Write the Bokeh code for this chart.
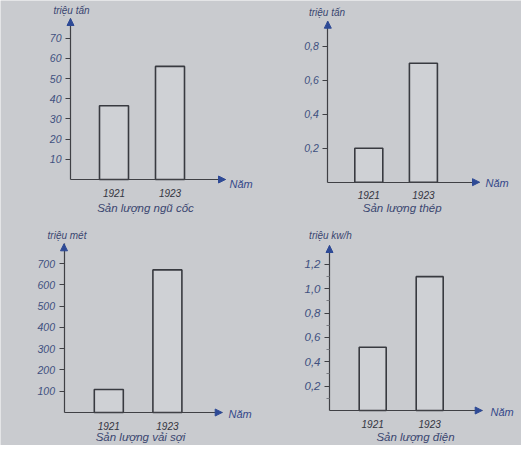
from bokeh.plotting import figure
from bokeh.models import (Range1d, FixedTicker, Arrow, NormalHead, Label, LinearAxis,
                          CustomJSTickFormatter)
from bokeh.embed import file_html
from bokeh.resources import INLINE

# ---- data ----
years = ["1921", "1923"]
grain = [36.5, 56]          # triệu tấn
steel = [0.2, 0.7]          # triệu tấn
textile = [108, 670]        # triệu mét
power = [0.52, 1.1]         # triệu kw/h

titles = ["Sản lượng ngũ cốc", "Sản lượng thép", "Sản lượng vải sợi", "Sản lượng điện"]
units = ["triệu tấn", "triệu tấn", "triệu mét", "triệu kw/h"]
ticks_grain = [10, 20, 30, 40, 50, 60, 70]
ticks_steel = [0.2, 0.4, 0.6, 0.8]
ticks_textile = [100, 200, 300, 400, 500, 600, 700]
ticks_power = [0.2, 0.4, 0.6, 0.8, 1.0, 1.2]
minor_power = [0.1, 0.3, 0.5, 0.7, 0.9, 1.1]
x_label = "Năm"

series = [grain, steel, textile, power]
ticks = [ticks_grain, ticks_steel, ticks_textile, ticks_power]

W, H = 521, 445
M = 0  # offset of the figure in the picture

BG = "#c9cbcf"
BAR_FILL = "#cfd1d5"
AXIS = "#3f4045"
HEAD = "#2e4a96"
TICKLBL = "#40507f"
YEARLBL = "#34353f"
BLUE = "#35498a"
TITLE = "#3a4670"
FONT = "Liberation Sans"

# geometry in window pixels: y-axis x, x-axis y, arrow tip y, x-arrow end, px per unit,
# first bar centre, bar spacing, bar width, label anchors
geo = [
    dict(ax=70, ay=179, tip=18, xend=225, ppu=2.02, c0=113.5, sp=56, bw=29,
         unit=(71, 10), title=(145, 207), nam=(229, 183), fs="10.5px", dec=False),
    dict(ax=327.3, ay=181.7, tip=20.7, xend=479, ppu=170.0, c0=368.3, sp=54.6, bw=28,
         unit=(326.5, 12), title=(401.7, 207), nam=(485, 182), fs="10.5px", dec=True),
    dict(ax=63.5, ay=412, tip=243.3, xend=221.7, ppu=0.2128, c0=108.3, sp=58.6, bw=29,
         unit=(66.5, 235), title=(140, 436), nam=(228, 413), fs="10.5px", dec=False),
    dict(ax=329, ay=410, tip=245, xend=481.7, ppu=121.7, c0=372.2, sp=57, bw=27,
         unit=(330, 235), title=(415, 436), nam=(490, 411), fs="11.5px", dec=True),
]

p = figure(width=W, height=H, output_backend="svg", toolbar_location=None,
           x_axis_type=None, y_axis_type=None,
           x_range=Range1d(0, W), y_range=Range1d(0, H),
           min_border=0, min_border_left=0, min_border_right=0,
           min_border_top=0, min_border_bottom=0)
p.background_fill_color = BG
p.border_fill_color = BG
p.outline_line_color = None
p.grid.visible = False

for i, g in enumerate(geo):
    xn, yn = f"x{i}", f"y{i}"
    sp, ppu = g["sp"], g["ppu"]
    c0 = g["c0"] - M
    ay = g["ay"] - M

    def dx(px, c0=c0, sp=sp):
        return (px - M - c0) / sp

    def dy(py, ay=ay, ppu=ppu):
        return (ay - (py - M)) / ppu

    p.extra_x_ranges[xn] = Range1d((0 - c0) / sp, (W - c0) / sp)
    p.extra_y_ranges[yn] = Range1d((ay - H) / ppu, ay / ppu)

    xs = list(range(len(years)))
    p.vbar(x=xs, top=series[i], width=g["bw"] / sp, bottom=0,
           fill_color=BAR_FILL, line_color="#383a40", line_width=1.6,
           x_range_name=xn, y_range_name=yn)

    x_axis_pos = dx(g["ax"])
    tip = dy(g["tip"])
    xend = dx(g["xend"])

    ya = LinearAxis(x_range_name=xn, y_range_name=yn, fixed_location=x_axis_pos,
                    bounds=(0, tip),
                    ticker=FixedTicker(ticks=ticks[i], minor_ticks=(minor_power if i == 3 else [])))
    ya.axis_line_color = AXIS
    ya.axis_line_width = 1.2
    ya.major_tick_line_color = AXIS
    ya.major_tick_out = 5
    ya.major_tick_in = 0
    ya.minor_tick_line_color = "#7a7c82"
    ya.minor_tick_out = 3
    ya.minor_tick_in = 0
    ya.major_label_text_font = FONT
    ya.major_label_text_font_style = "italic"
    ya.major_label_text_font_size = g["fs"]
    ya.major_label_text_color = TICKLBL
    ya.major_label_standoff = 4
    if g["dec"]:
        ya.formatter = CustomJSTickFormatter(code="return tick.toFixed(1).replace('.', ',');")
    p.add_layout(ya, "left")

    xa = LinearAxis(x_range_name=xn, y_range_name=yn, fixed_location=0,
                    bounds=(x_axis_pos, xend), ticker=FixedTicker(ticks=xs, minor_ticks=[]))
    xa.major_label_overrides = {k: years[k] for k in xs}
    xa.axis_line_color = AXIS
    xa.axis_line_width = 1.2
    xa.major_tick_line_color = None
    xa.minor_tick_line_color = None
    xa.major_label_text_font = FONT
    xa.major_label_text_font_style = "italic"
    xa.major_label_text_font_size = "10px"
    xa.major_label_text_color = YEARLBL
    xa.major_label_standoff = 3
    p.add_layout(xa, "below")

    # arrow heads
    p.add_layout(Arrow(end=NormalHead(size=7, fill_color=HEAD, line_color=HEAD),
                       x_start=x_axis_pos, y_start=tip - 3 / ppu, x_end=x_axis_pos, y_end=tip,
                       line_color=AXIS, line_width=1.2, x_range_name=xn, y_range_name=yn))
    p.add_layout(Arrow(end=NormalHead(size=7, fill_color=HEAD, line_color=HEAD),
                       x_start=xend - 3 / sp, y_start=0, x_end=xend, y_end=0,
                       line_color=AXIS, line_width=1.2, x_range_name=xn, y_range_name=yn))

    p.add_layout(Label(x=dx(g["unit"][0]), y=dy(g["unit"][1]), text=units[i],
                       x_range_name=xn, y_range_name=yn,
                       text_align="center", text_baseline="middle",
                       text_font=FONT, text_font_style="italic", text_font_size="10px",
                       text_color=TITLE))
    p.add_layout(Label(x=dx(g["nam"][0]), y=dy(g["nam"][1]), text=x_label,
                       x_range_name=xn, y_range_name=yn,
                       text_align="left", text_baseline="middle",
                       text_font=FONT, text_font_style="italic", text_font_size="11px",
                       text_color=BLUE))
    p.add_layout(Label(x=dx(g["title"][0]), y=dy(g["title"][1]), text=titles[i],
                       x_range_name=xn, y_range_name=yn,
                       text_align="center", text_baseline="middle",
                       text_font=FONT, text_font_style="italic", text_font_size="11.5px",
                       text_color=TITLE))

open("out.html", "w").write(file_html(p, INLINE))
